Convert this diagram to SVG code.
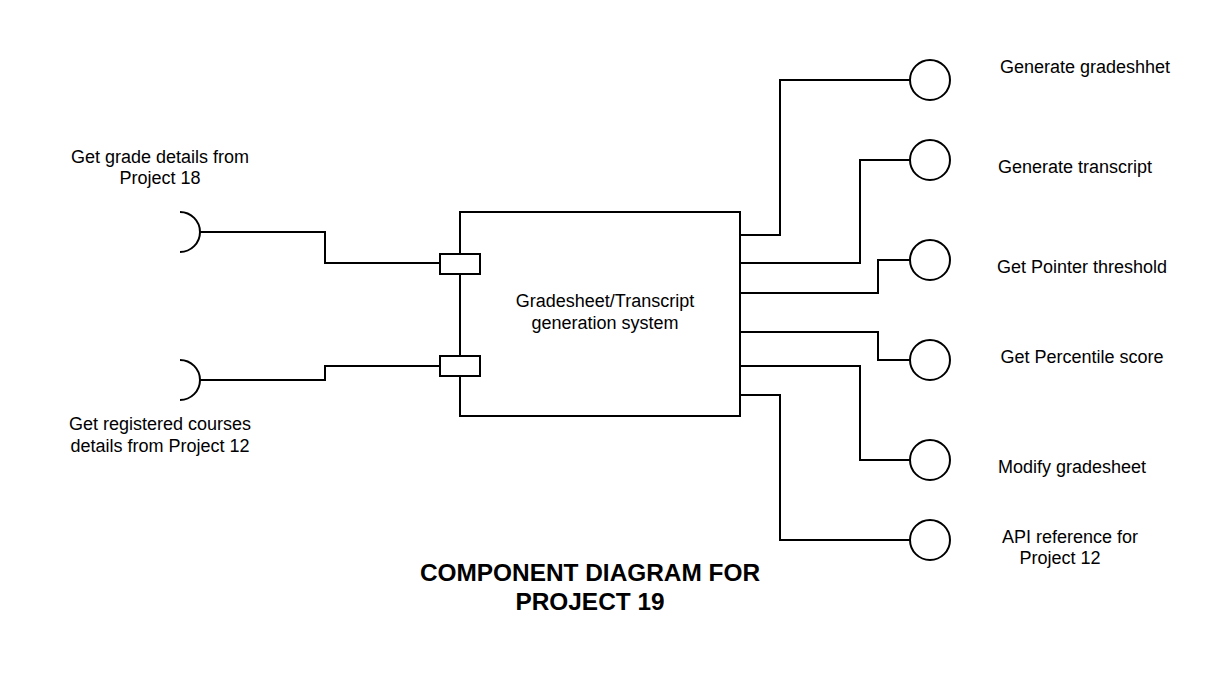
<svg xmlns="http://www.w3.org/2000/svg" width="1220" height="700" viewBox="0 0 1220 700">
<style>
.ln{fill:none;stroke:#000;stroke-width:2}
.sh{fill:#fff;stroke:#000;stroke-width:2}
.t{font-family:"Liberation Sans",Arial,sans-serif;font-size:18px;fill:#000;text-anchor:middle}
.h{font-family:"Liberation Sans",Arial,sans-serif;font-size:24.4px;font-weight:bold;fill:#000;text-anchor:middle}
</style>
<rect width="1220" height="700" fill="#fff"/>
<g id="connectors">
<path class="ln" d="M200 232 H325 V263 H440"/>
<path class="ln" d="M200 380 H325 V366 H440"/>
<path class="ln" d="M740 235 H780 V80 H910"/>
<path class="ln" d="M740 263 H860 V160 H910"/>
<path class="ln" d="M740 293 H878 V260 H910"/>
<path class="ln" d="M740 332 H878 V360 H910"/>
<path class="ln" d="M740 366 H860 V460 H910"/>
<path class="ln" d="M740 395 H780 V540 H910"/>
</g>
<g id="system">
<rect class="sh" x="460" y="212" width="280" height="204"/>
<rect class="sh" x="440" y="254" width="40" height="20"/>
<rect class="sh" x="440" y="356" width="40" height="20"/>
<text class="t" x="605" y="307">Gradesheet/Transcript</text>
<text class="t" x="605" y="329">generation system</text>
</g>
<g id="req-grade">
<path class="ln" d="M180 212 A20 20 0 0 1 180 252"/>
<text class="t" x="160" y="163">Get grade details from</text>
<text class="t" x="160" y="184">Project 18</text>
</g>
<g id="req-courses">
<path class="ln" d="M180 360 A20 20 0 0 1 180 400"/>
<text class="t" x="160" y="430">Get registered courses</text>
<text class="t" x="160" y="452">details from Project 12</text>
</g>
<g id="if-gradesheet">
<circle class="sh" cx="930" cy="80" r="20"/>
<text class="t" x="1085" y="73">Generate gradeshhet</text>
</g>
<g id="if-transcript">
<circle class="sh" cx="930" cy="160" r="20"/>
<text class="t" x="1075" y="173">Generate transcript</text>
</g>
<g id="if-pointer">
<circle class="sh" cx="930" cy="260" r="20"/>
<text class="t" x="1082" y="273">Get Pointer threshold</text>
</g>
<g id="if-percentile">
<circle class="sh" cx="930" cy="360" r="20"/>
<text class="t" x="1082" y="363">Get Percentile score</text>
</g>
<g id="if-modify">
<circle class="sh" cx="930" cy="460" r="20"/>
<text class="t" x="1072" y="473">Modify gradesheet</text>
</g>
<g id="if-api">
<circle class="sh" cx="930" cy="540" r="20"/>
<text class="t" x="1070" y="543">API reference for</text>
<text class="t" x="1060" y="564">Project 12</text>
</g>
<g id="title">
<text class="h" x="590" y="581">COMPONENT DIAGRAM FOR</text>
<text class="h" x="590" y="610">PROJECT 19</text>
</g>
</svg>
